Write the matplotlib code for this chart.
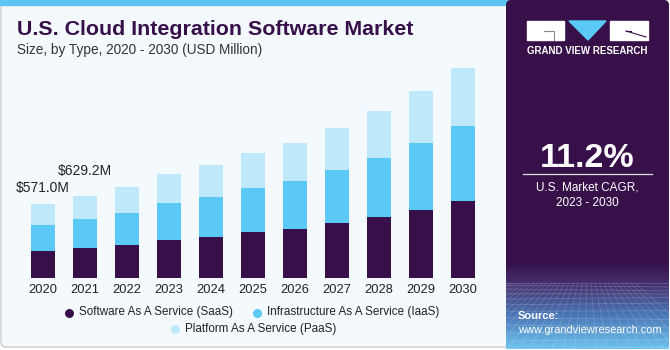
import numpy as np
import matplotlib
matplotlib.use("Agg")
import matplotlib.pyplot as plt
from matplotlib.patches import Rectangle, Polygon, FancyBboxPatch
from matplotlib.colors import LinearSegmentedColormap

plt.rcParams['font.family'] = ['Liberation Sans', 'DejaVu Sans']

# Data (USD Million)
years = ['2020', '2021', '2022', '2023', '2024', '2025', '2026', '2027', '2028', '2029', '2030']
saas = [208, 231, 254, 293, 316, 351, 377, 420, 467, 524, 588]
iaas = [200, 224, 249, 282, 305, 339, 367, 408, 454, 511, 575]
paas = [163, 174, 193, 221, 242, 267, 288, 321, 360, 400, 449]
segments = ['Software As A Service (SaaS)', 'Infrastructure As A Service (IaaS)',
            'Platform As A Service (PaaS)']
labels = {0: '$571.0M', 1: '$629.2M'}

purple = '#37104A'
colors = [purple, '#5BC9F6', '#BDE9FA']

W, H = 670, 350
fig = plt.figure(figsize=(W / 100, H / 100), dpi=100)

# background / decoration in pixel coordinates
bg = fig.add_axes([0, 0, 1, 1])
bg.set_xlim(0, W)
bg.set_ylim(H, 0)
bg.axis('off')

bg.add_patch(FancyBboxPatch((1, 1), 520, 346, boxstyle='round,pad=0,rounding_size=5',
                            facecolor='#F4F9FD', edgecolor='#CCCCCC', lw=1))
bg.add_patch(Rectangle((0, 0), 520, 5, color='#5DC6F0'))
bg.add_patch(FancyBboxPatch((506, 0), 163, 349, boxstyle='round,pad=0,rounding_size=5',
                            facecolor=purple, edgecolor='none'))

# gradient at bottom of side panel
cmap = LinearSegmentedColormap.from_list('side', [(0, purple), (0.25, '#45306E'),
                                                  (0.6, '#4A74B4'), (1, '#6CC3EE')])
grad = np.linspace(0, 1, 100).reshape(-1, 1)
bg.imshow(grad, extent=[506, 669, 349, 262], cmap=cmap, aspect='auto', zorder=1)
# perspective mesh
for k in range(12):
    yy = 283 + 66 * (k / 11) ** 1.4
    bg.plot([506, 669], [yy, yy + 2 * np.sin(k)], color='white', alpha=0.18, lw=0.6, zorder=2)
for k in range(-10, 22):
    x0 = 506 + k * 8
    bg.plot([587 + (x0 - 587) * 0.55, x0 + (x0 - 587) * 0.4], [283, 349],
            color='white', alpha=0.15, lw=0.6, zorder=2)

# logo
bg.add_patch(Rectangle((527, 21), 37, 19, color='white', zorder=3))
bg.plot([544, 554, 554], [31, 31, 40], color='#888888', lw=0.8, zorder=4)
bg.add_patch(Polygon([(569, 21), (606, 21), (588, 40)], color='#5BC9F6', zorder=3))
bg.add_patch(Rectangle((610, 21), 38, 19, color='white', zorder=3))
bg.plot([626, 646], [31, 37], color=purple, lw=0.8, zorder=4)
bg.plot([626, 631], [31, 31], color=purple, lw=0.8, zorder=4)
bg.text(587.5, 51, 'GRAND VIEW RESEARCH', color='white', fontsize=7.0, fontweight='bold',
        ha='center', va='center', zorder=4)

bg.text(587.5, 167, '11.2%', color='white', fontsize=24.5, fontweight='bold',
        ha='center', va='baseline', zorder=4)
bg.plot([523, 652], [173.5, 173.5], color='#DDDDDD', lw=0.9, zorder=4)
bg.text(587.5, 191, 'U.S. Market CAGR,', color='white', fontsize=8.5,
        ha='center', va='baseline', zorder=4)
bg.text(587.5, 205.5, '2023 - 2030', color='white', fontsize=8.5,
        ha='center', va='baseline', zorder=4)
bg.text(518, 319, 'Source:', color='white', fontsize=8.0, fontweight='bold',
        ha='left', va='baseline', zorder=4)
bg.text(518, 333, 'www.grandviewresearch.com', color='white', fontsize=7.9,
        ha='left', va='baseline', zorder=4)

# titles
bg.text(17, 35, 'U.S. Cloud Integration Software Market', color=purple, fontsize=15.4,
        fontweight='bold', ha='left', va='baseline')
bg.text(17, 54, 'Size, by Type, 2020 - 2030 (USD Million)', color='#333333', fontsize=9.8,
        ha='left', va='baseline')

# chart axes
ax = fig.add_axes([22 / W, 1 - 278.3 / H, 462 / W, 221 / H])
ax.set_facecolor('none')
x = np.arange(len(years))
bottom = np.zeros(len(years))
for vals, c in zip([saas, iaas, paas], colors):
    ax.bar(x, vals, bottom=bottom, width=0.57, color=c, edgecolor='none')
    bottom = bottom + np.array(vals)
ax.set_xlim(-0.5, len(years) - 0.5)
ax.set_ylim(0, 221 * 7.65)
ax.set_xticks(x)
ax.set_xticklabels(years, fontsize=9.3, color='#222222')
ax.tick_params(axis='x', length=0, pad=4)
ax.set_yticks([])
for s in ax.spines.values():
    s.set_visible(False)

offsets = {0: 11.6, 1: 21}
for i, txt in labels.items():
    ax.annotate(txt, (x[i], bottom[i]), xytext=(0, offsets[i]), textcoords='offset pixels',
                ha='center', va='baseline', fontsize=10, color='#222222')

# legend, drawn by hand in two centred rows
legend_pos = [(69, 312.5), (257, 312.5), (175, 329)]
for (lx, ly), name, c in zip(legend_pos, segments, colors):
    bg.scatter([lx], [ly], s=42, color=c, zorder=5, linewidths=0)
    bg.text(lx + 10, ly, name, fontsize=8.4, color='#222222', ha='left', va='center')

fig.savefig('out.png', dpi=100)
